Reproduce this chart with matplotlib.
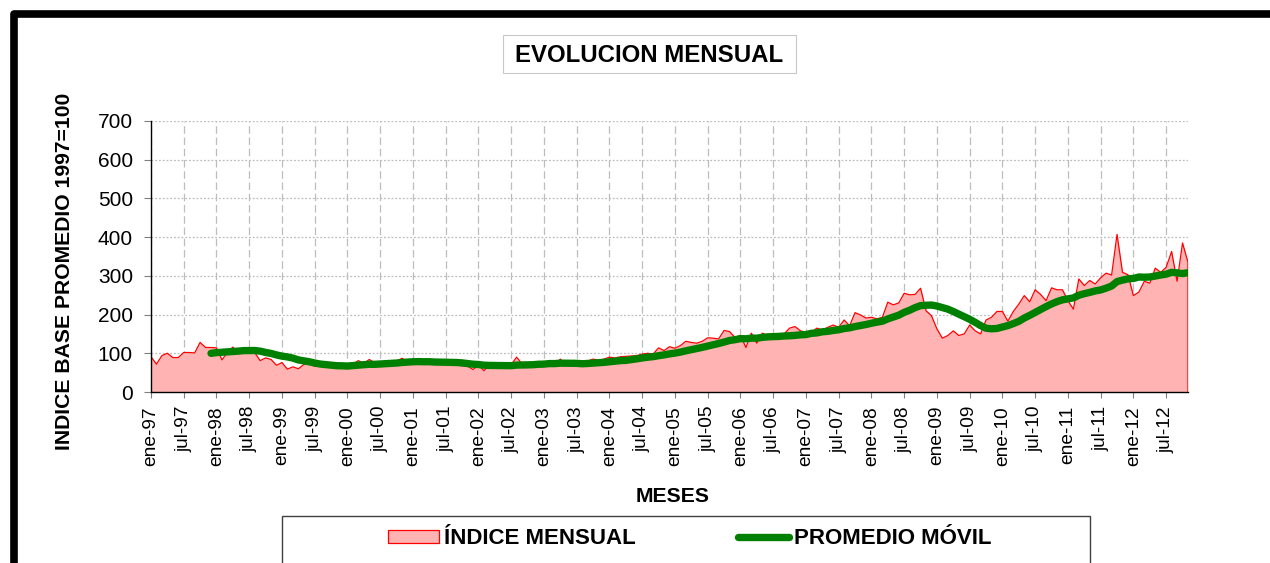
import numpy as np
import pandas as pd
import matplotlib
matplotlib.use("Agg")
import matplotlib.pyplot as plt
from matplotlib.patches import Rectangle, Patch
from matplotlib.lines import Line2D

plt.rcParams['font.family'] = ['Liberation Sans', 'DejaVu Sans']

# Texts
TITLE = "EVOLUCION MENSUAL"
Y_LABEL = "INDICE BASE PROMEDIO 1997=100"
X_LABEL = "MESES"
SERIES_NAMES = ["ÍNDICE MENSUAL", "PROMEDIO MÓVIL"]

# x tick labels, one every 6 months starting ene-97
TICK_LABELS = [
    "ene-97", "jul-97", "ene-98", "jul-98", "ene-99", "jul-99", "ene-00", "jul-00",
    "ene-01", "jul-01", "ene-02", "jul-02", "ene-03", "jul-03", "ene-04", "jul-04",
    "ene-05", "jul-05", "ene-06", "jul-06", "ene-07", "jul-07", "ene-08", "jul-08",
    "ene-09", "jul-09", "ene-10", "jul-10", "ene-11", "jul-11", "ene-12", "jul-12",
]
TICK_STEP = 6
Y_TICKS = [0, 100, 200, 300, 400, 500, 600, 700]

# monthly index, ene-97 .. nov-12
INDICE = [
    91, 72, 94, 100, 89, 89, 102, 102, 101, 128, 115, 115,        # 1997
    114, 83, 102, 116, 100, 105, 105, 102, 81, 88, 84, 69,        # 1998
    76, 59, 65, 60, 71, 77, 66, 70, 64, 68, 70, 66,               # 1999
    68, 72, 81, 74, 84, 75, 76, 78, 74, 80, 87, 79,               # 2000
    78, 76, 77, 74, 75, 72, 74, 72, 70, 68, 67, 58,               # 2001
    69, 55, 70, 72, 71, 73, 71, 90, 72, 73, 72, 72,               # 2002
    73, 72, 70, 85, 70, 69, 70, 78, 80, 85, 82, 85,               # 2003
    90, 88, 91, 92, 93, 94, 98, 100, 98, 114, 107, 117,           # 2004
    113, 120, 131, 128, 126, 131, 140, 139, 137, 159, 156, 141,   # 2005
    146, 115, 152, 126, 152, 146, 146, 147, 150, 165, 169, 158,   # 2006
    154, 154, 165, 160, 167, 173, 167, 186, 171, 205, 199, 191,   # 2007
    193, 189, 193, 232, 225, 230, 255, 251, 252, 268, 210, 197,   # 2008
    163, 139, 146, 158, 146, 150, 173, 158, 150, 186, 193, 208,   # 2009
    208, 183, 208, 227, 249, 233, 264, 252, 236, 269, 264, 264,   # 2010
    236, 214, 292, 275, 288, 279, 295, 307, 302, 407, 309, 303,   # 2011
    249, 258, 286, 281, 320, 309, 322, 363, 286, 385, 335,        # 2012
]
WINDOW = 12

W, H = 1270, 563


def fx(px):
    return px / W


def fy(py):
    return 1 - py / H


fig = plt.figure(figsize=(W / 100, H / 100), dpi=100)

# outer chart frame (only top and left edges visible)
fig.patches.append(Rectangle((fx(13.5), -0.2), 1.3, fy(13.5) + 0.2,
                             transform=fig.transFigure, fill=False,
                             edgecolor='black', lw=5.5, joinstyle='round'))

ax = fig.add_axes([fx(151), fy(392), fx(1188) - fx(151), fy(121) - fy(392)])

x = np.arange(len(INDICE))
ax.fill_between(x, INDICE, color='#ffb3b3', lw=0, zorder=2)
ax.plot(np.r_[0, x, x[-1]], np.r_[0, INDICE, 0], color='#ff0000', lw=0.9, zorder=3)

ma = pd.Series(INDICE).rolling(WINDOW).mean()
ax.plot(x, ma, color='#008000', lw=5.3, solid_capstyle='round', zorder=4)

ax.set_xlim(0, len(INDICE) - 1)
ax.set_ylim(0, 700)
ax.set_xticks(np.arange(len(TICK_LABELS)) * TICK_STEP)
ax.set_xticklabels(TICK_LABELS, rotation=90)
ax.set_yticks(Y_TICKS)

ax.set_axisbelow(True)
ax.xaxis.grid(True, linestyle=(0, (6, 3)), color='#bdbdbd', lw=0.9)
ax.yaxis.grid(True, linestyle=(0, (1.5, 1.5)), color='#bdbdbd', lw=0.9)

for s in ['top', 'right']:
    ax.spines[s].set_visible(False)
for s in ['left', 'bottom']:
    ax.spines[s].set_color('black')
    ax.spines[s].set_linewidth(1.0)
    ax.spines[s].set_zorder(5)

ax.tick_params(axis='y', labelsize=15, length=5, color='#808080', pad=8)
ax.tick_params(axis='x', labelsize=13.8, length=4, color='#808080', pad=6)

# title box
fig.patches.append(Rectangle((fx(503), fy(73)), fx(796) - fx(503), fy(35) - fy(73),
                             transform=fig.transFigure, facecolor='white',
                             edgecolor='#c8c8c8', lw=0.8))
fig.text(fx(649.5), fy(55), TITLE, ha='center', va='center',
         fontsize=17.3, fontweight='bold')

fig.text(fx(65), fy(271), Y_LABEL, ha='center', va='center', rotation=90,
         fontsize=15.2, fontweight='bold')
fig.text(fx(673), fy(496), X_LABEL, ha='center', va='center',
         fontsize=15.2, fontweight='bold')

# legend
fig.patches.append(Rectangle((fx(282), -0.2), fx(1090) - fx(282), fy(516) + 0.2,
                             transform=fig.transFigure, facecolor='white',
                             edgecolor='#404040', lw=1.0))
handles = [
    Patch(facecolor='#ffb3b3', edgecolor='#ff0000', lw=0.9),
    Line2D([0], [0], color='#008000', lw=5.3, solid_capstyle='round'),
]
fig.legend(handles, SERIES_NAMES, loc='center left',
           bbox_to_anchor=(fx(388), fy(539)), frameon=False, ncol=2,
           prop={'size': 16, 'weight': 'bold'}, borderpad=0, borderaxespad=0,
           handlelength=2.3, handleheight=0.55, handletextpad=0.22,
           columnspacing=4.6)

fig.savefig("out.png", dpi=100)
